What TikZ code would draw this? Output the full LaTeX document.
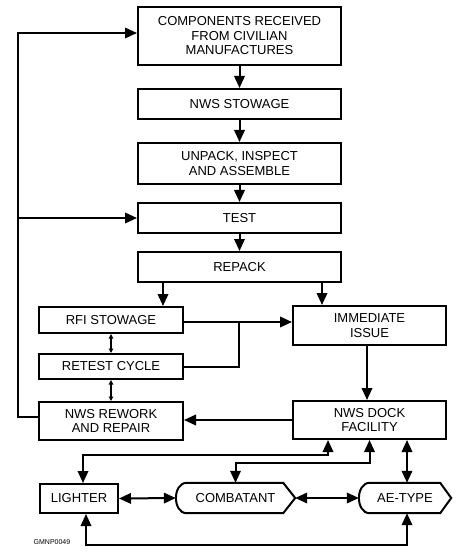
\documentclass[tikz,border=0pt]{standalone}
\usepackage{fontspec}
\setmainfont{Liberation Sans}
\usetikzlibrary{arrows.meta,calc}
\begin{document}
\begin{tikzpicture}[x=1pt,y=-1pt,
  every node/.style={font=\fontsize{13}{14.5}\selectfont, align=center, inner sep=0pt},
  box/.style={draw, line width=2pt, minimum width=#1},
  box/.default=203pt,
  shapenode/.style={minimum width=#1, minimum height=30pt},
  link/.style={line width=2pt},
  arr/.style={link, -{Triangle[length=12pt,width=10.5pt]}},
  biarr/.style={link, {Triangle[length=12pt,width=10.5pt]}-{Triangle[length=12pt,width=10.5pt]}},
  smallbi/.style={line width=1.2pt, {Triangle[length=4.5pt,width=4.5pt]}-{Triangle[length=4.5pt,width=4.5pt]}},
  shp/.style={line width=2pt}
]
\useasboundingbox (0,0) rectangle (457,553);
\fill[white] (0,0) rectangle (457,553);

\node[box, minimum height=58pt] (comp) at (239.5,36) {COMPONENTS RECEIVED\\FROM CIVILIAN\\MANUFACTURES};
\node[box, minimum height=30pt] (stow) at (239.5,104) {NWS STOWAGE};
\node[box, minimum height=41pt] (unpack) at (239.5,163.5) {UNPACK, INSPECT\\AND ASSEMBLE};
\node[box, minimum height=30pt] (test) at (239.5,218) {TEST};
\node[box, minimum height=30pt] (repack) at (239.5,267) {REPACK};
\node[box=144pt, minimum height=26pt] (rfi) at (111,320) {RFI STOWAGE};
\node[box=144pt, minimum height=25pt] (retest) at (111,366.5) {RETEST CYCLE};
\node[box=153pt, minimum height=39pt] (imm) at (369.5,325.5) {IMMEDIATE\\ISSUE};
\node[box=144pt, minimum height=38pt] (rework) at (111,421) {NWS REWORK\\AND REPAIR};
\node[box=153pt, minimum height=38pt] (dock) at (369.5,420) {NWS DOCK\\FACILITY};
\node[box=78pt, minimum height=29pt] (lighter) at (79,498.5) {LIGHTER};
\node[shapenode=119pt] (comb) at (235.5,498) {COMBATANT};
\node[shapenode=92pt] (ae) at (405,498) {AE-TYPE};
\node[font=\fontsize{7}{8}\selectfont] (code) at (52,542) {GMNP0049};

% shaped nodes
\draw[shp] ([xshift=11pt]comb.north west) -- ([xshift=-12pt]comb.north east) -- (comb.east)
  -- ([xshift=-12pt]comb.south east) -- ([xshift=11pt]comb.south west)
  .. controls ([xshift=-3.5pt]comb.south west) and ([xshift=-3.5pt]comb.north west) .. cycle;
\draw[shp] ([xshift=11pt]ae.north west) -- ([xshift=-11pt]ae.north east) -- (ae.east)
  -- ([xshift=-11pt]ae.south east) -- ([xshift=11pt]ae.south west)
  .. controls ([xshift=-3.5pt]ae.south west) and ([xshift=-3.5pt]ae.north west) .. cycle;

% main column
\draw[arr] (comp.south) -- (stow.north);
\draw[arr] (stow.south) -- (unpack.north);
\draw[arr] (unpack.south) -- (test.north);
\draw[arr] (test.south) -- (repack.north);
\draw[arr] ([xshift=-76.5pt]repack.south) -- ([xshift=-76.5pt]repack.south |- rfi.north);
\draw[arr] ([xshift=82.5pt]repack.south) -- ([xshift=82.5pt]repack.south |- imm.north);

% feedback loop
\coordinate (loopx) at (18,0);
\coordinate (cin) at ([yshift=3pt]comp.west);
\draw[arr] ([yshift=4pt]rework.west) -| (loopx |- cin) -- (cin);
\draw[arr] (loopx |- test.west) -- (test.west);

% RFI / retest
\draw[arr] ([yshift=-2pt]rfi.east) -- ([yshift=-2pt]rfi.east -| imm.west);
\coordinate (j) at (239,322);
\draw[link] (retest.east) -| (j);
\draw[smallbi] (rfi.south) -- (retest.north);
\draw[smallbi] (retest.south) -- (rework.north);

% dock
\draw[arr] ([xshift=-2.5pt]imm.south) -- ([xshift=-2.5pt]dock.north);
\draw[arr] (dock.west) -- (dock.west -| rework.east);
\draw[biarr] ([xshift=4pt]lighter.north) |- (200,455) -| ([xshift=-41.5pt]dock.south);
\draw[biarr] (comb.north) |- (300,463) -| (dock.south);
\draw[biarr] ([xshift=37.5pt]dock.south) -- ([xshift=37.5pt]dock.south |- ae.north);
\draw[biarr] (lighter.east) -- (comb.west);
\draw[biarr] (comb.east) -- (ae.west);
\draw[biarr] ([xshift=7pt]lighter.south) |- (200,545) -| ([xshift=2pt]ae.south);
\end{tikzpicture}
\end{document}
